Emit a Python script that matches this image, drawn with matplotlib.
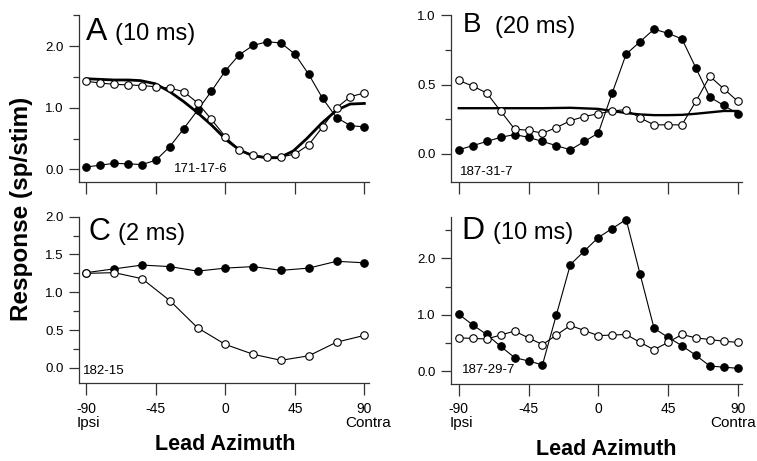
import matplotlib
matplotlib.use("Agg")
import matplotlib.pyplot as plt
from matplotlib.ticker import MultipleLocator, FormatStrFormatter

plt.rcParams['font.family'] = ['Liberation Sans', 'DejaVu Sans']
plt.rcParams['axes.unicode_minus'] = False

# azimuths (deg)
az9 = [-90, -81, -72, -63, -54, -45, -36, -27, -18, -9, 0,
       9, 18, 27, 36, 45, 54, 63, 72, 81, 90]
az18 = [-90, -72, -54, -36, -18, 0, 18, 36, 54, 72, 90]

# panel A (10 ms)
a_filled = [0.04, 0.07, 0.10, 0.09, 0.08, 0.15, 0.37, 0.66, 0.96, 1.27, 1.60,
            1.86, 2.01, 2.07, 2.05, 1.87, 1.54, 1.15, 0.84, 0.71, 0.69]
a_open = [1.43, 1.40, 1.38, 1.37, 1.36, 1.34, 1.32, 1.26, 1.08, 0.81, 0.53,
          0.32, 0.23, 0.20, 0.20, 0.25, 0.40, 0.69, 1.00, 1.18, 1.24]
a_fit_x = [-90, -81, -72, -63, -55, -45.5, -36, -27, -18.5, -9, 1,
           9.5, 18, 27, 35, 44, 52.7, 62.4, 72, 80.7, 90]
a_fit = [1.47, 1.46, 1.45, 1.45, 1.44, 1.39, 1.26, 1.10, 0.93, 0.72, 0.47,
         0.31, 0.22, 0.19, 0.19, 0.30, 0.50, 0.75, 0.96, 1.06, 1.07]

# panel B (20 ms)
b_filled = [0.03, 0.06, 0.09, 0.12, 0.14, 0.12, 0.09, 0.06, 0.03, 0.09, 0.15,
            0.44, 0.72, 0.81, 0.90, 0.87, 0.83, 0.62, 0.41, 0.35, 0.29]
b_open = [0.53, 0.49, 0.44, 0.31, 0.18, 0.17, 0.15, 0.19, 0.24, 0.27, 0.29,
          0.31, 0.32, 0.26, 0.21, 0.21, 0.21, 0.38, 0.56, 0.47, 0.38]
b_fit_x = [-90, -63, -36, -18, 0, 9, 18, 27, 36, 45, 54, 63, 72, 81, 90]
b_fit = [0.33, 0.33, 0.33, 0.333, 0.325, 0.31, 0.295, 0.285, 0.28, 0.28,
         0.282, 0.29, 0.30, 0.31, 0.31]

# panel C (2 ms)
c_filled = [1.26, 1.31, 1.36, 1.34, 1.28, 1.32, 1.34, 1.29, 1.32, 1.41, 1.39]
c_open = [1.25, 1.26, 1.18, 0.89, 0.53, 0.31, 0.18, 0.10, 0.16, 0.34, 0.43]

# panel D (10 ms)
d_filled = [1.01, 0.82, 0.65, 0.44, 0.24, 0.18, 0.11, 1.00, 1.89, 2.13, 2.37,
            2.53, 2.69, 1.72, 0.76, 0.60, 0.45, 0.28, 0.09, 0.07, 0.05]
d_open = [0.59, 0.58, 0.57, 0.64, 0.71, 0.59, 0.47, 0.64, 0.81, 0.72, 0.63,
          0.64, 0.65, 0.51, 0.38, 0.51, 0.65, 0.59, 0.56, 0.53, 0.51]

W, H = 757, 461
fig = plt.figure(figsize=(W / 100, H / 100), dpi=100)


def px_axes(x0, x1, ytop, ybot):
    return fig.add_axes([x0 / W, 1 - ybot / H, (x1 - x0) / W, (ybot - ytop) / H])


def ftext(x, y, s, **kw):
    fig.text(x / W, 1 - y / H, s, **kw)


def style(ax, ylim, major, minor, show_x):
    ax.set_xlim(-95, 93)
    ax.set_ylim(*ylim)
    for s in ['top', 'right']:
        ax.spines[s].set_visible(False)
    for s in ['left', 'bottom']:
        ax.spines[s].set_linewidth(0.9)
        ax.spines[s].set_color('#333333')
    ax.set_xticks([-90, -45, 0, 45, 90])
    ax.yaxis.set_major_locator(MultipleLocator(major))
    ax.yaxis.set_minor_locator(MultipleLocator(minor))
    ax.yaxis.set_major_formatter(FormatStrFormatter('%.1f'))
    ax.tick_params(axis='x', direction='out', length=8.5, width=0.9,
                   color='#333333', labelsize=10, pad=5, labelbottom=show_x)
    ax.tick_params(axis='y', which='major', direction='out', length=7,
                   width=0.9, color='#333333', labelsize=9.5, pad=4)
    ax.tick_params(axis='y', which='minor', direction='out', length=4.5,
                   width=0.9, color='#333333')
    ax.patch.set_visible(False)


def curves(ax, x, filled, opn):
    ax.plot(x, filled, '-o', color='black', lw=0.8, ms=5.4,
            mfc='black', mec='black', mew=0.8, zorder=3, clip_on=False)
    ax.plot(x, opn, '-o', color='black', lw=0.8, ms=5.4,
            mfc='white', mec='black', mew=0.8, zorder=4, clip_on=False)


axA = px_axes(78.7, 369, 15.2, 181.8)
axB = px_axes(451, 742.4, 15.3, 181.7)
axC = px_axes(78.7, 369, 216.7, 383)
axD = px_axes(451, 742.4, 216.7, 383.5)

style(axA, (-0.2, 2.5), 1.0, 0.5, False)
style(axB, (-0.2, 1.0), 0.5, 0.25, False)
style(axC, (-0.2, 2.0), 0.5, 0.25, True)
style(axD, (-0.22, 2.74), 1.0, 0.5, True)

axA.plot(a_fit_x, a_fit, color='black', lw=2.0, zorder=2)
curves(axA, az9, a_filled, a_open)
axB.plot(b_fit_x, b_fit, color='black', lw=1.7, zorder=2)
curves(axB, az9, b_filled, b_open)
curves(axC, az18, c_filled, c_open)
curves(axD, az9, d_filled, d_open)

# cell ids
axA.text(-33, 0.0, '171-17-6', fontsize=9.5, ha='left', va='center')
axB.text(-89.5, -0.13, '187-31-7', fontsize=9.5, ha='left', va='center')
axC.text(-92, -0.04, '182-15', fontsize=9.5, ha='left', va='center')
axD.text(-88, 0.02, '187-29-7', fontsize=9.5, ha='left', va='center')

# panel titles
ftext(86, 40, 'A', fontsize=23, va='baseline')
ftext(115, 40, '(10 ms)', fontsize=17, va='baseline')
ftext(463, 32.5, 'B', fontsize=20, va='baseline')
ftext(495, 32.5, '(20 ms)', fontsize=17, va='baseline')
ftext(88, 240, 'C', fontsize=22, va='baseline')
ftext(118, 240, '(2 ms)', fontsize=17, va='baseline')
ftext(461, 238.5, 'D', fontsize=23, va='baseline')
ftext(493, 238.5, '(10 ms)', fontsize=17, va='baseline')

# ipsi / contra under the end ticks
ftext(76.7, 422.5, 'Ipsi', fontsize=11, ha='left', va='center')
ftext(450, 422.5, 'Ipsi', fontsize=11, ha='left', va='center')
ftext(368, 422.5, 'Contra', fontsize=11, ha='center', va='center')
ftext(733.5, 422.5, 'Contra', fontsize=11, ha='center', va='center')

ftext(225, 444, 'Lead Azimuth', fontsize=15.5, fontweight='bold',
      ha='center', va='center')
ftext(606, 449, 'Lead Azimuth', fontsize=15.5, fontweight='bold',
      ha='center', va='center')
ftext(22, 208.5, 'Response (sp/stim)', fontsize=17.5, fontweight='bold',
      rotation=90, ha='center', va='center')

fig.savefig('out.png', dpi=100)
